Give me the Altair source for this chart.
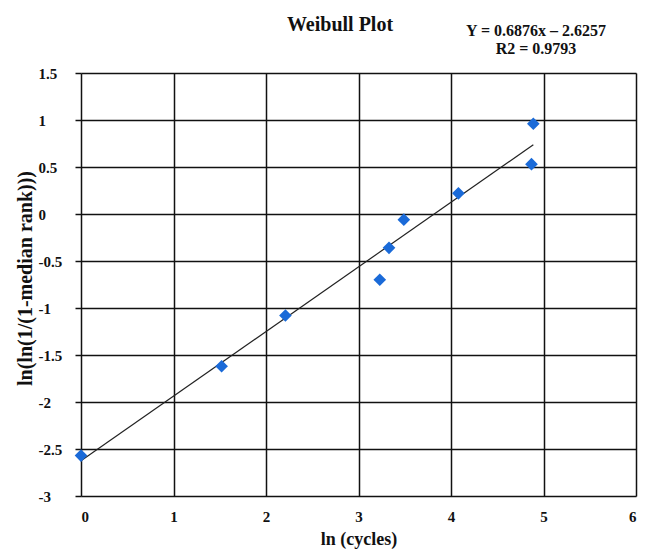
import altair as alt
import pandas as pd

# data
ln_cycles = [0.0, 1.52, 2.21, 3.23, 3.33, 3.49, 4.08, 4.87, 4.89]
weibull_y = [-2.57, -1.62, -1.08, -0.70, -0.36, -0.06, 0.22, 0.53, 0.96]
trend_slope = 0.6876
trend_intercept = -2.6257
x_ticks = [0, 1, 2, 3, 4, 5, 6]
y_ticks = [-3, -2.5, -2, -1.5, -1, -0.5, 0, 0.5, 1, 1.5]
title_text = "Weibull Plot"
equation_text = "Y = 0.6876x \u2013 2.6257\nR2 = 0.9793"

FONT = "Liberation Serif"

pts = pd.DataFrame({"x": ln_cycles, "y": weibull_y})
trend = pd.DataFrame({"x": [min(ln_cycles), max(ln_cycles)]})

xs = alt.Scale(domain=[0, 6], nice=False, zero=False)
ys = alt.Scale(domain=[-3, 1.5], nice=False, zero=False)

x_axis = alt.Axis(
    values=x_ticks, grid=True, gridColor="#111111", gridWidth=1.5, gridOpacity=1,
    domain=False, ticks=False, labelPadding=13, labelFont=FONT, labelFontSize=15,
    labelFontWeight="bold", labelColor="#111111", labelExpr="'' + datum.value",
    title="ln (cycles)", titleFont=FONT, titleFontSize=18, titleFontWeight="bold",
    titleColor="#111111", titleY=48, titleBaseline="alphabetic",
)
y_axis = alt.Axis(
    values=y_ticks, grid=True, gridColor="#111111", gridWidth=1.5, gridOpacity=1,
    domain=False, ticks=True, tickSize=6, tickColor="#111111", tickWidth=1.5,
    labelAlign="left", labelPadding=37, labelFont=FONT, labelFontSize=15,
    labelFontWeight="bold", labelColor="#111111", labelExpr="'' + datum.value",
    title="ln(ln(1/(1-median rank)))", titleFont=FONT, titleFontSize=20,
    titleFontWeight="bold", titleColor="#111111", titleAngle=-90,
    titleX=-56, titleY=205, titleAlign="center", titleBaseline="middle",
)

base_x = alt.X("x:Q", scale=xs, axis=x_axis)
base_y = alt.Y("y:Q", scale=ys, axis=y_axis)

points = alt.Chart(pts).mark_point(
    shape="diamond", filled=True, size=160, color="#1a6ad8", opacity=1, clip=False
).encode(x=base_x, y=base_y)

line = alt.Chart(trend).transform_calculate(
    y=f"{trend_slope} * datum.x + ({trend_intercept})"
).mark_line(color="#222222", strokeWidth=1.2).encode(
    x=alt.X("x:Q", scale=xs), y=alt.Y("y:Q", scale=ys)
)

title = alt.Chart(pd.DataFrame({"t": [title_text]})).mark_text(
    font=FONT, fontSize=20, fontWeight="bold", color="#111111",
    align="center", baseline="middle"
).encode(text="t:N", x=alt.value(259), y=alt.value(-48))

equation = alt.Chart(pd.DataFrame({"t": [equation_text]})).mark_text(
    font=FONT, fontSize=16, fontWeight="bold", color="#111111",
    align="center", baseline="middle", lineBreak="\n", lineHeight=18
).encode(text="t:N", x=alt.value(455), y=alt.value(-42))

chart = alt.layer(line, points, title, equation).properties(
    width=555, height=423,
    autosize=alt.AutoSizeParams(type="none"),
    padding={"left": 73, "top": 65, "right": 2, "bottom": 53},
).configure_view(stroke="#111111", strokeWidth=1.5).configure(background="white")

chart.save("out.html", embed_options={"renderer": "svg", "actions": False})
